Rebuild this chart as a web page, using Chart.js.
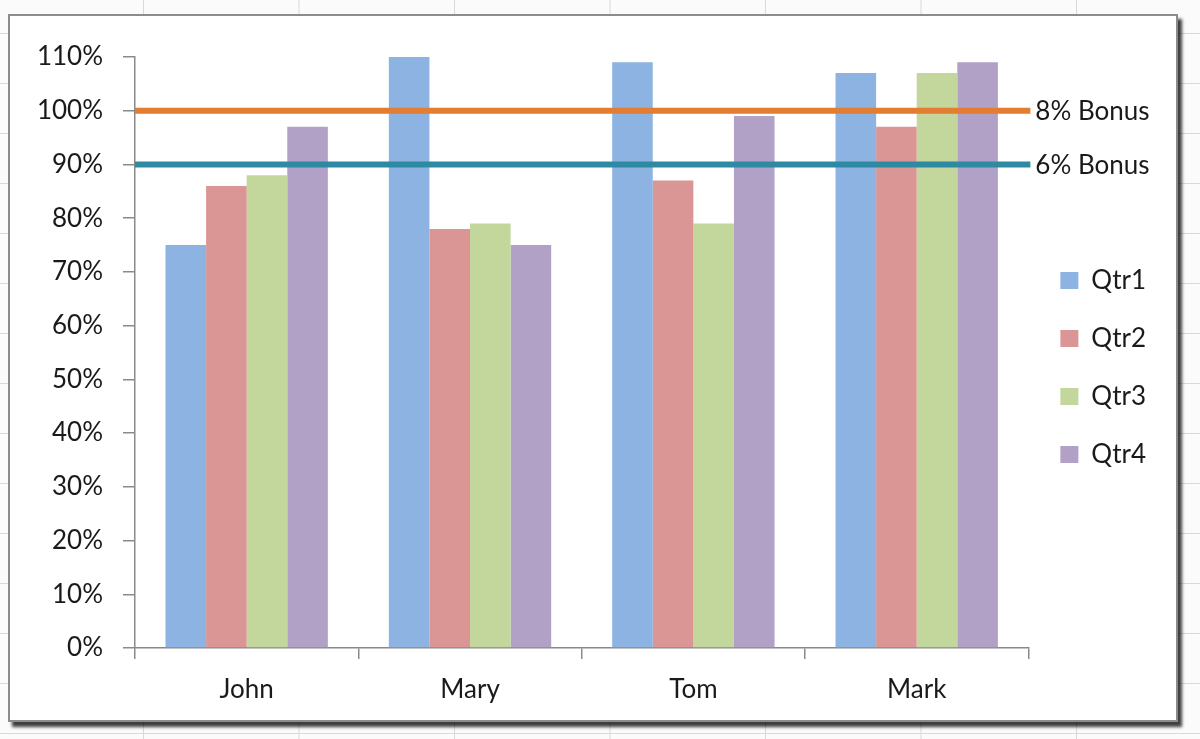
<!DOCTYPE html>
<html lang="en">
<head>
    <meta charset="UTF-8">
    <title>Bonus Chart</title>
    <script src="https://cdn.jsdelivr.net/npm/chart.js"></script>
    <style>
        body {
            margin: 0;
            width: 1200px;
            height: 739px;
            overflow: hidden;
            background-color: #fbfbfb;
            background-image:
                linear-gradient(to right, #d9d9d9 1px, transparent 1px),
                linear-gradient(to bottom, #d9d9d9 1px, transparent 1px);
            background-size: 155.5px 50px;
            background-position: 143px 33px;
        }
        .frame {
            position: absolute;
            left: 8px;
            top: 14px;
            width: 1166px;
            height: 704px;
            background: #fff;
            border: 2px solid #8c8c8c;
            box-shadow: 4px 5px 3px rgba(0, 0, 0, 0.75);
        }
        .wrap {
            position: absolute;
            left: 0;
            top: 0;
            width: 1200px;
            height: 739px;
        }
    </style>
</head>
<body>
    <div class="frame"></div>
    <div class="wrap">
        <canvas id="bonusChart"></canvas>
    </div>

    <script>
        // values, in percent
        const people = ['John', 'Mary', 'Tom', 'Mark'];
        const quarters = ['Qtr1', 'Qtr2', 'Qtr3', 'Qtr4'];
        const qtr1 = [75, 110, 109, 107];
        const qtr2 = [86, 78, 87, 97];
        const qtr3 = [88, 79, 79, 107];
        const qtr4 = [97, 75, 99, 109];
        const bonusNames = ['8% Bonus', '6% Bonus'];
        const bonusLevels = [100, 90];
        const yTicks = [0, 10, 20, 30, 40, 50, 60, 70, 80, 90, 100, 110];

        const barColors = ['#8db3e2', '#da9694', '#c3d69b', '#b2a1c7'];
        const lineColors = ['#e27d32', '#2e8aa2'];
        const font = { family: 'Lato, "Open Sans", sans-serif', size: 26 };

        const barSets = [qtr1, qtr2, qtr3, qtr4].map((vals, i) => ({
            label: quarters[i],
            data: vals,
            backgroundColor: barColors[i],
            categoryPercentage: 0.727,
            barPercentage: 1.0,
        }));

        // bonus target lines across the plot, placed with the y scale
        const bonusLines = {
            id: 'bonusLines',
            afterDatasetsDraw(chart) {
                const ctx = chart.ctx;
                const area = chart.chartArea;
                const y = chart.scales.y;
                bonusLevels.forEach((lvl, i) => {
                    const py = y.getPixelForValue(lvl);
                    ctx.save();
                    ctx.strokeStyle = lineColors[i];
                    ctx.lineWidth = 6;
                    ctx.beginPath();
                    ctx.moveTo(area.left, py);
                    ctx.lineTo(area.right + 2, py);
                    ctx.stroke();
                    ctx.font = font.size + 'px ' + font.family;
                    ctx.fillStyle = '#1a1a1a';
                    ctx.textBaseline = 'middle';
                    ctx.fillText(bonusNames[i], area.right + 7, py + 1);
                    ctx.restore();
                });
            }
        };

        const ctx = document.getElementById('bonusChart').getContext('2d');
        const chart = new Chart(ctx, {
            type: 'bar',
            data: {
                labels: people,
                datasets: barSets,
            },
            options: {
                responsive: true,
                maintainAspectRatio: false,
                animation: false,
                layout: {
                    padding: { top: 57, right: 44, left: 0, bottom: 0 }
                },
                plugins: {
                    tooltip: { enabled: false },
                    legend: {
                        position: 'right',
                        fullSize: false,
                        title: {
                            display: true,
                            text: ' ',
                            font: { size: 10 },
                            padding: 9,
                        },
                        labels: {
                            boxWidth: 18,
                            boxHeight: 17,
                            padding: 32,
                            color: '#1a1a1a',
                            font: font,
                        },
                    },
                },
                scales: {
                    x: {
                        grid: {
                            display: true,
                            drawOnChartArea: false,
                            tickLength: 11,
                            color: '#8a8a8a',
                            lineWidth: 1.5,
                        },
                        border: { display: true, color: '#8a8a8a', width: 1.5 },
                        ticks: { color: '#1a1a1a', font: font, padding: 15 },
                        afterFit(scale) { scale.height = 91; },
                    },
                    y: {
                        min: 0,
                        max: 110,
                        afterBuildTicks(scale) {
                            scale.ticks = yTicks.map(v => ({ value: v }));
                        },
                        grid: {
                            display: true,
                            drawOnChartArea: false,
                            tickLength: 12,
                            color: '#8a8a8a',
                            lineWidth: 1.5,
                        },
                        border: { display: true, color: '#8a8a8a', width: 1.5 },
                        ticks: {
                            color: '#1a1a1a',
                            font: font,
                            padding: 20,
                            callback: v => v + '%',
                        },
                        afterFit(scale) { scale.width = 135; },
                    },
                },
            },
            plugins: [bonusLines],
        });
    </script>
</body>
</html>
